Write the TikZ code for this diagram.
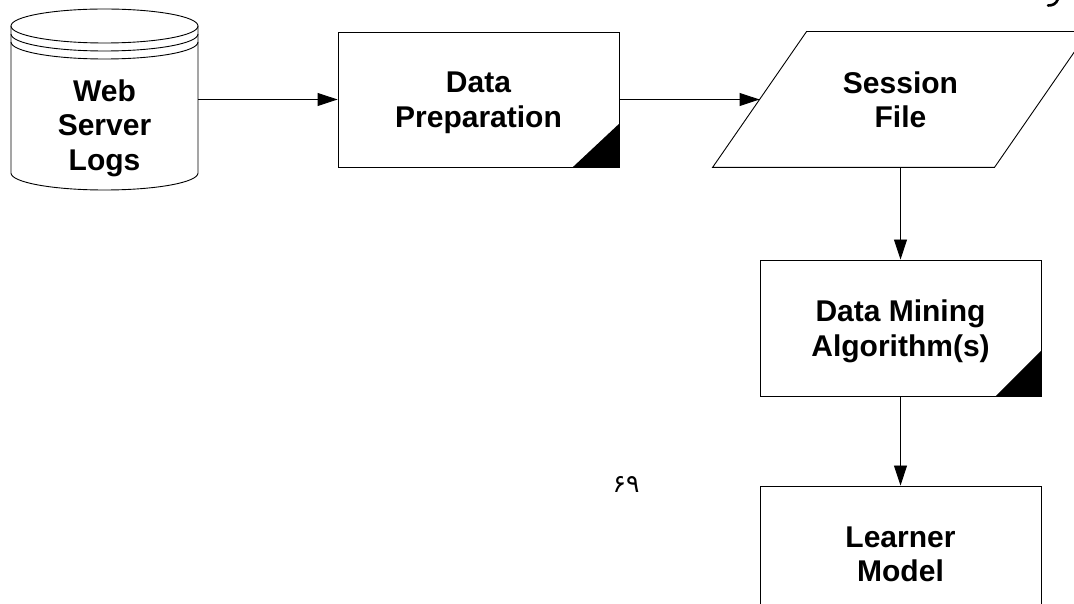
\documentclass[tikz,border=0pt]{standalone}
\usepackage{fontspec}
\setmainfont{Liberation Sans}
\newfontfamily\arabicfont[Script=Arabic]{DejaVu Sans}
\usetikzlibrary{arrows.meta}
\begin{document}
\begin{tikzpicture}[x=1pt,y=1pt,
  line width=0.9pt,
  lbl/.style={font=\bfseries\fontsize{30}{34.5}\selectfont, align=center, inner sep=0pt, text depth=0pt},
  procbox/.style={draw, rectangle, minimum width=281pt, minimum height=135pt, inner sep=0pt},
  ghost/.style={rectangle, minimum width=281pt, minimum height=135pt, inner sep=0pt},
  conn/.style={-{Triangle[length=20pt,width=13pt]}, line width=0.9pt}
]
\useasboundingbox (0,0) rectangle (1074,603);
\clip (0,0) rectangle (1074,603);

% Web Server Logs cylinder
\draw (104.5,577) ellipse [x radius=93.5, y radius=17];
\draw (11,569) arc [start angle=180, end angle=360, x radius=93.5, y radius=17];
\draw (11,561) arc [start angle=180, end angle=360, x radius=93.5, y radius=17];
\draw (11,577) -- (11,430) arc [start angle=180, end angle=360, x radius=93.5, y radius=17] -- (198,577);
\node[rectangle, minimum width=187pt, minimum height=135pt, inner sep=0pt] (ws) at (104.5,503.5) {};
\node[lbl] (wst) at (104.5,478) {Web\\Server\\Logs};

% Data Preparation
\node[procbox, lbl] (dp) at (478.5,503.5) {Data\\Preparation};
\fill (dp.south east) -- ++(-47,0) -- ++(47,44) -- cycle;

% Session File (parallelogram)
\node[ghost, lbl] (sf) at (900.5,503.5) {Session\\File};
\draw ([xshift=47pt]sf.north west) -- ([xshift=47pt]sf.north east) -- ([xshift=-47pt]sf.south east) -- ([xshift=-47pt]sf.south west) -- cycle;

% Data Mining Algorithm(s)
\node[procbox, minimum height=136pt, lbl] (dm) at (900.5,275) {Data Mining\\Algorithm(s)};
\fill (dm.south east) -- ++(-46,0) -- ++(46,46) -- cycle;

% Learner Model
\node[procbox, minimum height=136pt, lbl] (lm) at (900.5,49) {Learner\\Model};

% connectors
\draw[conn] (ws.east) -- (dp.west);
\draw[conn] (dp.east) -- (sf.west);
\draw[conn] (sf.south) -- (dm.north);
\draw[conn] (dm.south) -- (lm.north);

% page number
\node[font=\arabicfont\fontsize{25}{28}\selectfont, inner sep=0pt] (pg) at (626,119) {۶۹};

% cut-off stroke at top right (tail of a glyph above the page)
\draw[line width=2.6pt, line cap=round] (1058,604) .. controls (1056,599) and (1053,597.5) .. (1048,597.5);
\end{tikzpicture}
\end{document}
